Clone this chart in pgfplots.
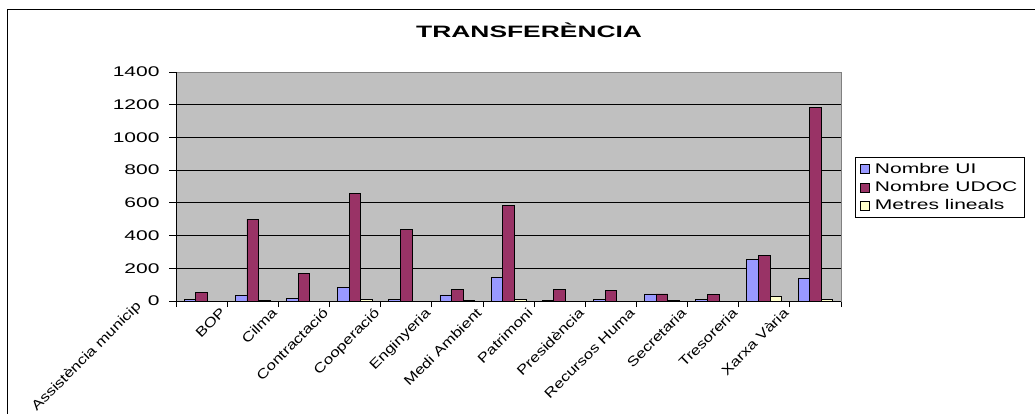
\documentclass[border=0pt]{standalone}
\usepackage{fontspec}
\setmainfont{Liberation Sans}[FakeStretch=1.5]
\newfontfamily\titlefont{Liberation Sans}[FakeStretch=1.6]
\newfontfamily\labfont{Liberation Sans}[FakeStretch=1.25]
\usepackage{pgfplots}
\pgfplotsset{compat=1.18}
\definecolor{plotgray}{RGB}{192,192,192}
\definecolor{borgray}{RGB}{128,128,128}
\definecolor{ui}{RGB}{153,153,255}
\definecolor{udoc}{RGB}{153,51,102}
\definecolor{ml}{RGB}{255,255,204}
\begin{document}
\begin{tikzpicture}
\begin{axis}[
  at={(176pt,-301pt)}, anchor=south west,
  scale only axis, width=665pt, height=229pt,
  ybar=0pt, bar width=11.6pt,
  xmin=-0.5, xmax=12.5, ymin=0, ymax=1400,
  ytick={0,200,...,1400},
  xtick={0,...,12},
  xticklabels={{},BOP,Cilma,Contractació,Cooperació,Enginyeria,Medi Ambient,Patrimoni,Presidència,Recursos Huma,Secretaria,Tresoreria,Xarxa Vària},
  extra x ticks={0},
  extra x tick labels={Assistència municip},
  extra x tick style={major tick length=0pt, xticklabel style={xshift=-24pt, yshift=24pt}},
  minor xtick={-0.5,0.5,...,12.5},
  major x tick style={draw=none},
  minor x tick style={draw=black, line width=0.8pt},
  ytick style={draw=black, line width=0.8pt},
  tick align=outside, major tick length=7pt, minor tick length=6pt,
  xtick pos=bottom, ytick pos=left,
  ymajorgrids, grid style={black, line width=0.8pt},
  axis line style={draw=borgray, line width=0.8pt},
  axis background/.style={fill=plotgray},
  /pgf/number format/assume math mode=true,
  /pgf/number format/set thousands separator={},
  yticklabel style={font=\fontsize{14}{16}\selectfont, xshift=-6pt},
  xticklabel style={font=\labfont\fontsize{13.5}{15}\selectfont, xshift=-33pt, yshift=6pt, rotate=45, anchor=north east},
  title={TRANSFERÈNCIA},
  title style={at={(0.531,1.157)}, anchor=center, font=\titlefont\bfseries\fontsize{16.5}{18}\selectfont},
  legend image code/.code={\draw[#1,draw=black,line width=0.6pt] (0pt,-4.5pt) rectangle (9pt,4.5pt);},
  legend style={at={(1.021,0.629)}, anchor=north west, draw=black, line width=0.8pt, fill=white,
    font=\fontsize{14}{16}\selectfont, row sep=2.5pt, column sep=3pt, inner xsep=5pt, inner ysep=4pt, cells={anchor=west}},
  every axis plot/.append style={draw=black, line width=0.8pt},
]
\addplot[fill=ui] coordinates {(0,10) (1,35) (2,18) (3,82) (4,12) (5,37) (6,145) (7,3) (8,12) (9,43) (10,10) (11,253) (12,137)};
\addplot[fill=udoc] coordinates {(0,53) (1,500) (2,170) (3,660) (4,440) (5,71) (6,582) (7,69) (8,63) (9,43) (10,41) (11,278) (12,1186)};
\addplot[fill=ml] coordinates {(0,0) (1,2) (2,0) (3,10) (4,0) (5,2) (6,12) (7,0) (8,0) (9,3) (10,0) (11,29) (12,10)};
\legend{Nombre UI,Nombre UDOC,Metres lineals}
\draw[black, line width=0.8pt] (rel axis cs:0,0) -- (rel axis cs:1,0);
\draw[black, line width=0.8pt] (rel axis cs:0,0) -- (rel axis cs:0,1);
\end{axis}
\draw[black, line width=1pt] (7pt,-600pt) -- (7pt,-10pt) -- (1200pt,-10pt);
\pgfresetboundingbox
\path[use as bounding box] (0pt,0pt) rectangle (1035pt,-414pt);
\end{tikzpicture}
\end{document}
